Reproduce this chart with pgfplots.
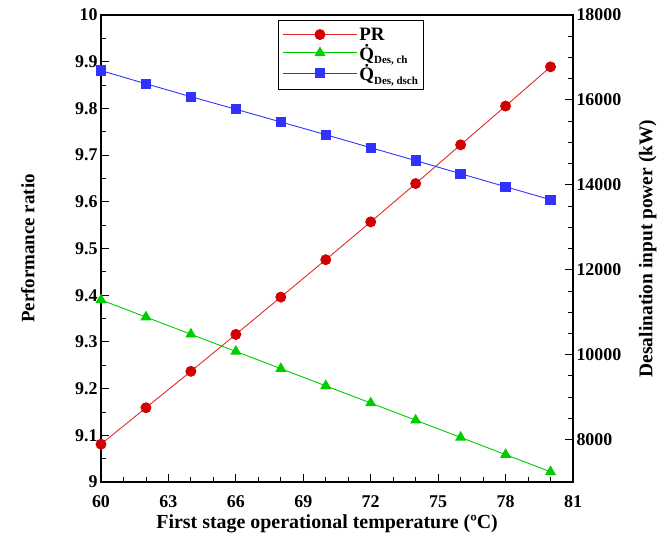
\documentclass[border=0pt]{standalone}
\usepackage{pgfplots}
\pgfplotsset{compat=1.18}
\usepackage{fontspec}
\setmainfont{Liberation Serif}
\definecolor{pr}{RGB}{210,0,0}
\definecolor{prl}{RGB}{230,40,40}
\definecolor{gr}{RGB}{0,204,0}
\definecolor{bl}{RGB}{50,50,255}
\newcommand{\tickf}{\bfseries\fontsize{18}{21}\selectfont}
\pgfplotsset{
  common/.style={
    scale only axis, width=472bp, height=467bp,
    xmin=60, xmax=81,
    tick align=inside,
    major tick length=8bp, minor tick length=5bp,
    every tick/.style={black, line width=0.9pt},
    axis line style={line width=1.1pt},
    tick label style={font=\tickf},
    /pgf/number format/assume math mode=true,
    /pgf/number format/set thousands separator={},
    scaled y ticks=false,
  }
}
\begin{document}
\begin{tikzpicture}
\begin{axis}[common, name=a,
  ymin=9, ymax=10,
  xtick={60,63,66,69,72,75,78,81}, minor x tick num=2,
  ytick={9,9.1,9.2,9.3,9.4,9.5,9.6,9.7,9.8,9.9,10}, minor y tick num=1,
  xtick pos=lower, ytick pos=left,
  xticklabel shift=10bp,
  xlabel={First stage operational temperature (ºC)},
  ylabel={Performance ratio},
  xlabel style={font=\bfseries\fontsize{20}{24}\selectfont, at={(axis description cs:0.479,-0.090)}, anchor=center},
  ylabel style={font=\bfseries\fontsize{19}{23}\selectfont, at={(axis description cs:-0.155,0.5)}, anchor=center, rotate=0},
]
\addplot[color=prl, line width=0.9pt, mark=*, mark size=5bp, mark options={fill=pr, draw=pr}] coordinates {
(60,9.081) (62,9.159) (64,9.237) (66,9.316) (68,9.396) (70,9.476) (72,9.557) (74,9.639) (76,9.722) (78,9.805) (80,9.889)};
\end{axis}
\begin{axis}[common,
  ymin=7000, ymax=18000,
  axis x line=none, axis y line*=right,
  ytick={8000,10000,12000,14000,16000,18000}, minor y tick num=3,
  ylabel={Desalination input power (kW)},
  ylabel style={font=\bfseries\fontsize{19.5}{23}\selectfont, at={(axis description cs:1.158,0.5)}, anchor=center, rotate=0},
  legend style={at={(axis description cs:0.375,0.989)}, anchor=north west,
    draw=black, line width=1pt, fill=white, font=\bfseries\fontsize{19}{22}\selectfont, row sep=-1.5bp,
    inner xsep=4bp, inner ysep=5bp},
  legend cell align=left,
  legend image code/.code={\draw[mark repeat=2,mark phase=2,#1] plot coordinates {(0bp,0bp) (37bp,0bp) (74bp,0bp)};},
]
\addlegendimage{color=prl, line width=0.9pt, mark=*, mark size=5bp, mark options={fill=pr, draw=pr}}
\addlegendentry{PR}
\addplot[color=gr, line width=0.9pt, mark=triangle*, mark size=5.5bp, mark options={fill=gr, draw=gr}] coordinates {
(60,11290) (62,10885) (64,10480) (66,10075) (68,9670) (70,9265) (72,8860) (74,8455) (76,8050) (78,7645) (80,7240)};
\addlegendentry{\.{Q}{\fontsize{11}{13}\selectfont\raisebox{-3.5bp}{Des, ch}}}
\addplot[color=bl, line width=0.9pt, mark=square*, mark size=4.7bp, mark options={fill=bl, draw=bl}] coordinates {
(60,16690) (62,16380) (64,16075) (66,15780) (68,15480) (70,15180) (72,14875) (74,14570) (76,14262) (78,13955) (80,13650)};
\addlegendentry{\.{Q}{\fontsize{11}{13}\selectfont\raisebox{-3.5bp}{Des, dsch}}}
\end{axis}
\pgfresetboundingbox
\path ([shift={(-101bp,-55bp)}]a.south west) rectangle ([shift={(99bp,15bp)}]a.north east);
\end{tikzpicture}
\end{document}
